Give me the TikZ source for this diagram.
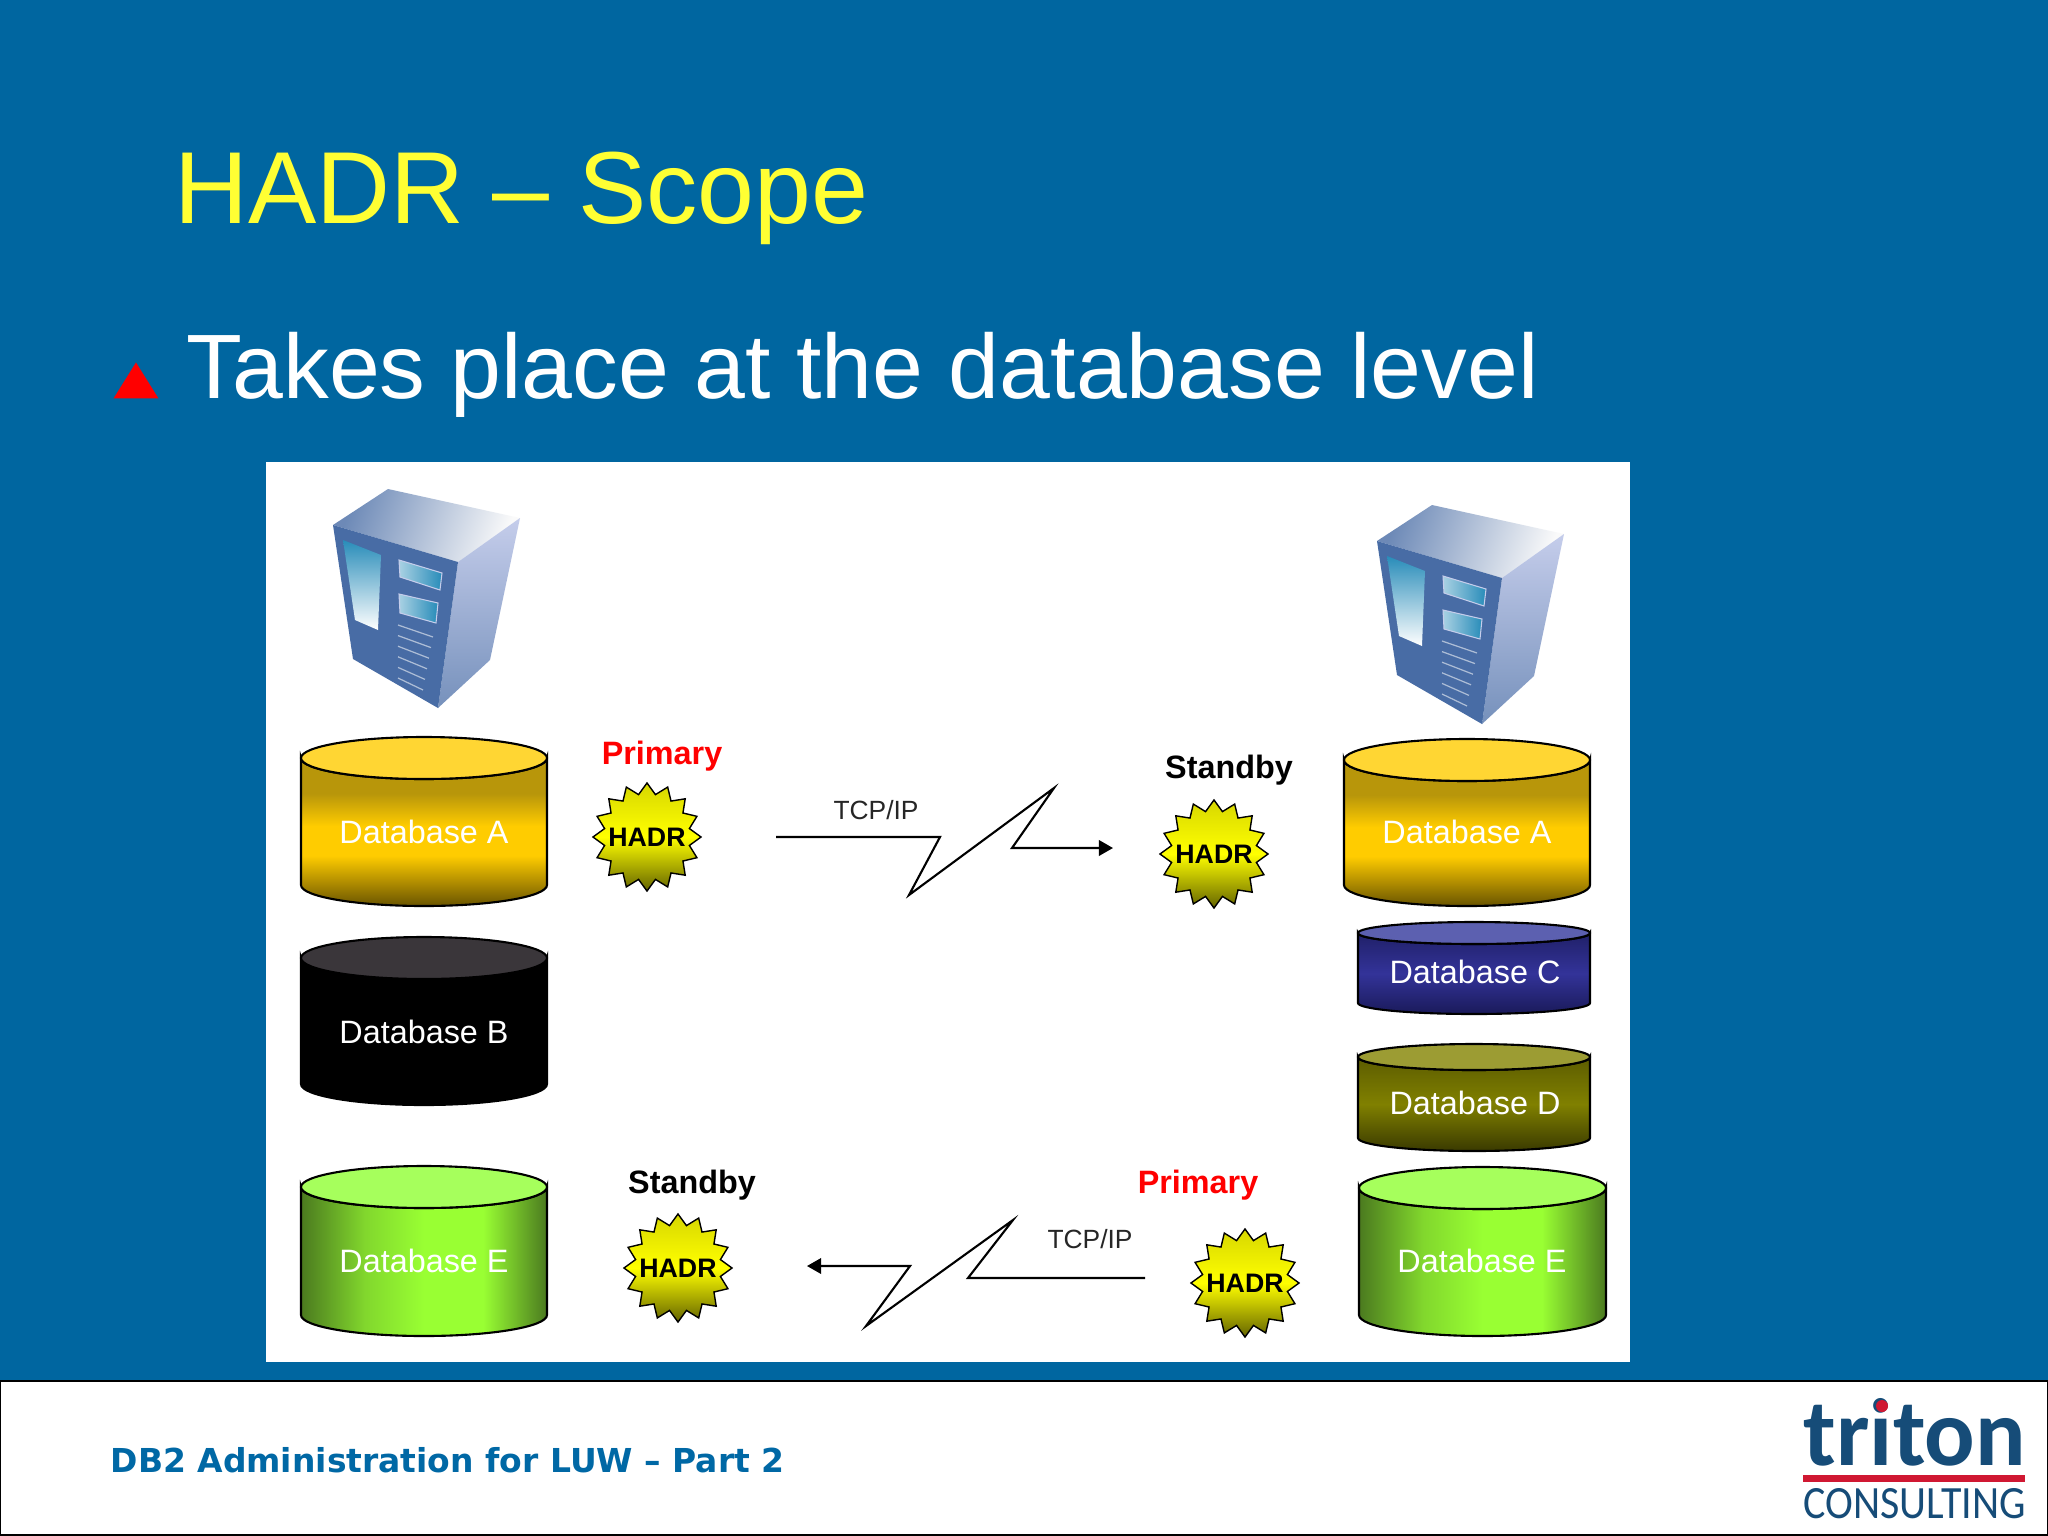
\documentclass[tikz,border=0pt]{standalone}
\usepackage{fontspec}
\setmainfont{Liberation Sans}
\newfontfamily\footfont{DejaVu Sans}
\newfontfamily\logofont{Carlito}
\usetikzlibrary{arrows.meta}
\usetikzlibrary{shapes.geometric}

\definecolor{slideblue}{RGB}{0,102,160}
\definecolor{titleyellow}{RGB}{255,255,51}
\definecolor{footblue}{RGB}{0,104,165}
\definecolor{logoblue}{RGB}{22,76,120}
\definecolor{logored}{RGB}{208,24,50}
\definecolor{srvfront}{RGB}{72,108,165}
\definecolor{srvside}{RGB}{197,205,235}
\definecolor{srvglass}{RGB}{40,140,185}
\definecolor{goldedge}{RGB}{184,150,10}
\definecolor{goldmid}{RGB}{255,204,0}
\definecolor{goldlow}{RGB}{105,84,0}
\definecolor{goldlid}{RGB}{255,214,51}
\definecolor{bluehigh}{RGB}{32,32,104}
\definecolor{bluemid}{RGB}{51,51,153}
\definecolor{bluelow}{RGB}{26,26,90}
\definecolor{bluelid}{RGB}{92,96,176}
\definecolor{olivehigh}{RGB}{92,92,0}
\definecolor{olivemid}{RGB}{128,128,0}
\definecolor{olivelow}{RGB}{58,58,0}
\definecolor{olivelid}{RGB}{156,156,51}
\definecolor{greenedge}{RGB}{75,122,31}
\definecolor{greenmid}{RGB}{153,255,51}
\definecolor{greenlid}{RGB}{166,255,92}
\definecolor{blacklid}{RGB}{58,54,58}
\definecolor{starhigh}{RGB}{215,215,0}
\definecolor{starmid}{RGB}{255,255,0}
\definecolor{starlow}{RGB}{100,100,0}

\pgfdeclareverticalshading{goldfade}{100bp}{color(0bp)=(goldlow); color(25bp)=(goldlow); color(42bp)=(goldmid); color(52bp)=(goldmid); color(63bp)=(goldedge); color(100bp)=(goldedge)}
\pgfdeclarehorizontalshading{greenfade}{100bp}{color(0bp)=(greenedge); color(25bp)=(greenedge); color(38bp)=(greenmid!70!greenedge); color(50bp)=(greenmid); color(62bp)=(greenmid); color(75bp)=(greenedge); color(100bp)=(greenedge)}

\tikzset{
	dblabel/.style={inner sep=0pt, text=white, font=\fontsize{9.2}{11}\selectfont},
	statered/.style={inner sep=0pt, text=red, font=\bfseries\fontsize{9.2}{11}\selectfont},
	stateblack/.style={inner sep=0pt, text=black, font=\bfseries\fontsize{9.2}{11}\selectfont},
	linklabel/.style={inner sep=0pt, text=black!85, font=\fontsize{7.5}{9}\selectfont},
	hadrstar/.style={star, star points=16, star point ratio=1.25, minimum size=1.08cm, inner sep=0pt, draw=black, line width=0.4pt,
		top color=starhigh, bottom color=starlow, middle color=starmid,
		label={[inner sep=0pt, text=black, font=\bfseries\fontsize{7.6}{9}\selectfont]center:HADR}},
	linkline/.style={draw=black, line width=0.6pt, -{Triangle[length=4pt,width=4.4pt]}},
	dbgold/.style={shading=goldfade},
	dbblack/.style={fill=black},
	dbblue/.style={top color=bluehigh, bottom color=bluelow, middle color=bluemid},
	dbolive/.style={top color=olivehigh, bottom color=olivelow, middle color=olivemid},
	dbgreen/.style={shading=greenfade}
}

% one drum: cx, ytop, ybottom, rx, ry, body style, lid colour
\newcommand{\dbdrum}[7]{
	\path [#6, draw=black, line width=0.6pt] (#1-#4,#2) -- (#1-#4,#3) arc [start angle=180, end angle=0, x radius=#4, y radius=#5] -- (#1+#4,#2) arc [start angle=0, end angle=180, x radius=#4, y radius=#5] -- cycle;
	\draw [fill=#7, line width=0.6pt] (#1,#2) ellipse [x radius=#4, y radius=#5];
}

% server box
\newcommand{\drawserver}[2]{
	\begin{scope}[shift={(#1,#2)}]
		\path [left color=srvfront!80!white, right color=black!2!white, shading angle=70] (333,525) -- (388,489) -- (520,518) -- (458,562) -- cycle;
		\path [top color=srvside, bottom color=srvfront!75!white] (458,562) -- (520,518) -- (490,660) -- (438,708) -- cycle;
		\fill [srvfront] (333,525) -- (458,562) -- (438,708) -- (353,659) -- cycle;
		\path [top color=srvglass, bottom color=white] (343,540) -- (381,555) -- (378,630) -- (355,620) -- cycle;
		\path [left color=white!60!srvglass, right color=srvglass, draw=srvside, line width=0.3pt] (399,560) -- (442,573) -- (440,590) -- (400,577) -- cycle;
		\path [left color=white!60!srvglass, right color=srvglass, draw=srvside, line width=0.3pt] (399,594) -- (438,603) -- (436,623) -- (400,613) -- cycle;
		\foreach \i in {0,...,5} {
			\draw [srvfront!45!white, line width=0.35pt] (398,625+10.6*\i) -- (433-2*\i,637+10.6*\i);
		}
	\end{scope}
}

\begin{document}
\begin{tikzpicture}[x=0.01cm, y=-0.01cm]
	\useasboundingbox (0,0) rectangle (2048,1536);
	\fill [slideblue] (0,0) rectangle (2048,1536);

	\node (title) [anchor=base west, inner sep=0pt, text=titleyellow, font=\fontsize{29.1}{32}\selectfont] at (174,223) {HADR -- Scope};
	\node (bullet) [isosceles triangle, isosceles triangle apex angle=64, shape border rotate=90, fill=red, inner sep=0pt, minimum height=0.36cm, minimum width=0.44cm] at (136,386) {};
	\node (bodyline) [anchor=base west, inner sep=0pt, text=white, font=\fontsize{26}{30}\selectfont] at (186,398) {Takes place at the database level};

	\fill [white] (266,462) rectangle (1630,1362);

	\draw [black, line width=0.7pt, fill=white] (0,1381) rectangle (2048,1535);
	\node (footer) [anchor=west, inner sep=0pt, text=footblue, font=\footfont\bfseries\fontsize{9.37}{11}\selectfont] at (110,1460) {DB2 Administration for LUW – Part 2};

	\node (logotop) [anchor=south west, inner sep=0pt, text=logoblue] at (1803,1467) {\resizebox{2.22cm}{0.67cm}{\logofont\bfseries triton}};
	\fill [logored] (1882,1406) circle (6);
	\fill [logored] (1803,1475) rectangle (2025,1482);
	\node (logobottom) [anchor=south west, inner sep=0pt, text=logoblue] at (1803,1520) {\resizebox{2.22cm}{0.30cm}{\logofont CONSULTING}};

	\drawserver{0}{0}
	\drawserver{1044}{16}

	% left column
	\dbdrum{424}{758}{885}{123}{21}{dbgold}{goldlid}
	\node (dbaleft) [dblabel] at (424,832) {Database A};
	\dbdrum{424}{958}{1084}{123}{21}{dbblack}{blacklid}
	\node (dbbleft) [dblabel] at (424,1032) {Database B};
	\dbdrum{424}{1187}{1315}{123}{21}{dbgreen}{greenlid}
	\node (dbeleft) [dblabel] at (424,1261) {Database E};

	% right column
	\dbdrum{1467}{760}{885}{123}{21}{dbgold}{goldlid}
	\node (dbaright) [dblabel] at (1467,832) {Database A};
	\dbdrum{1474}{933}{1003}{116}{11}{dbblue}{bluelid}
	\node (dbcright) [dblabel] at (1475,972) {Database C};
	\dbdrum{1474}{1057}{1138}{116}{13}{dbolive}{olivelid}
	\node (dbdright) [dblabel] at (1475,1103) {Database D};
	\dbdrum{1482.5}{1188}{1315}{123.5}{21}{dbgreen}{greenlid}
	\node (dberight) [dblabel] at (1482,1261) {Database E};

	% upper link
	\node (primtop) [statered] at (662,756) {Primary};
	\node (hadrtopl) [hadrstar] at (647,837) {};
	\node (standtop) [stateblack] at (1229,770) {Standby};
	\node (hadrtopr) [hadrstar] at (1214,854) {};
	\coordinate (linktopa) at (776,837);
	\coordinate (linktopb) at (1113,848);
	\node (tcptop) [linklabel] at (876,810) {TCP/IP};
	\draw [linkline] (linktopa) -- (940,837) -- (909,895) -- (1054,788) -- (1012,848) -- (linktopb);

	% lower link
	\node (standlow) [stateblack] at (692,1185) {Standby};
	\node (hadrlowl) [hadrstar] at (678,1268) {};
	\node (primlow) [statered] at (1198,1185) {Primary};
	\node (hadrlowr) [hadrstar] at (1245,1283) {};
	\coordinate (linklowa) at (1145,1278);
	\coordinate (linklowb) at (807,1266);
	\node (tcplow) [linklabel] at (1090,1239) {TCP/IP};
	\draw [linkline] (linklowa) -- (968,1278) -- (1013,1220) -- (866,1326) -- (910,1266) -- (linklowb);
\end{tikzpicture}
\end{document}
